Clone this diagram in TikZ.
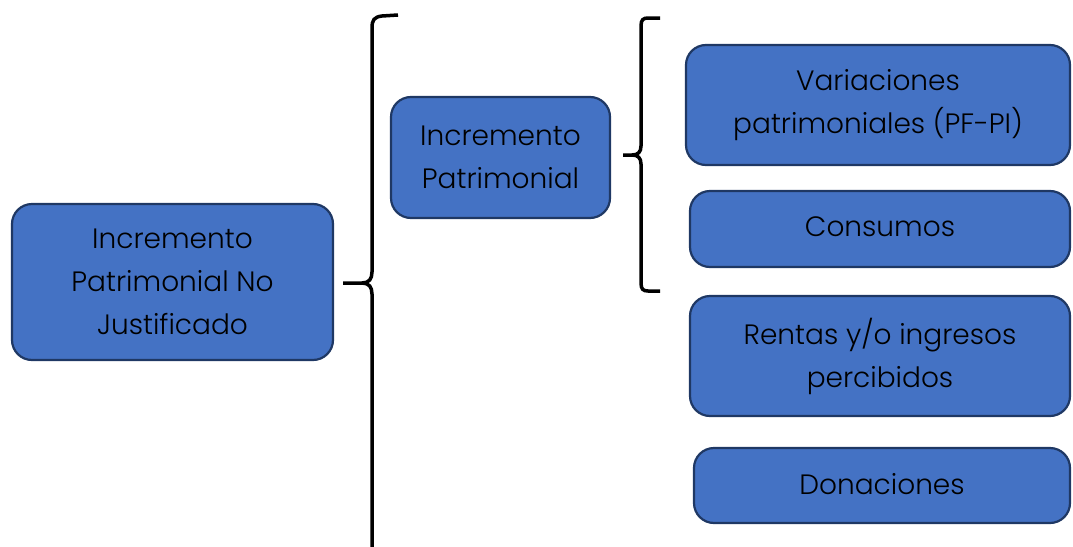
\documentclass[tikz,border=0pt]{standalone}
\usepackage{fontspec}
\setmainfont{Poppins Light}
\definecolor{boxfill}{HTML}{4472C4}
\definecolor{boxline}{HTML}{1F3864}
\begin{document}
\begin{tikzpicture}[x=1pt,y=-1pt,
  item/.style={draw=boxline, line width=2.2pt, fill=boxfill, rounded corners=20pt,
    align=center, inner sep=0pt, font=\fontsize{28}{43}\selectfont, text=black},
  bracket/.style={draw=black, line width=3.5pt, line cap=butt}]
\useasboundingbox (0,0) rectangle (1073,546);
\clip (0,0) rectangle (1073,546);

% boxes
\node[item, minimum width=321pt, minimum height=156pt] (ipnj) at (172.5,282)
  {Incremento\\Patrimonial No\\Justificado};
\node[item, minimum width=219pt, minimum height=121pt] (ip) at (500.5,157.5)
  {Incremento\\Patrimonial};
\node[item, minimum width=384pt, minimum height=120pt] (var) at (878,105)
  {Variaciones\\patrimoniales (PF-PI)};
\node[item, minimum width=380pt, minimum height=76pt] (cons) at (880,229)
  {\raisebox{4pt}{Consumos}};
\node[item, minimum width=380pt, minimum height=120pt] (rent) at (880,356)
  {Rentas y/o ingresos\\percibidos};
\node[item, minimum width=376pt, minimum height=75pt] (don) at (882,485.5)
  {\raisebox{3pt}{Donaciones}};

% large brace
\draw[bracket] (398,15) -- (382,16) .. controls (374,17) and (372,20) .. (372,28)
  -- (372,272) .. controls (372,279) and (369,283) .. (362,283) -- (343,283);
\draw[bracket] (362,283) .. controls (369,283) and (372,287) .. (372,294) -- (372,560);

% small brace
\draw[bracket] (660,18) -- (648,18) .. controls (643,18) and (641,20) .. (641,26)
  -- (641,146) .. controls (641,152) and (638,155) .. (632,155) -- (623,155);
\draw[bracket] (632,155) .. controls (638,155) and (641,158) .. (641,164)
  -- (641,283) .. controls (641,289) and (643,291) .. (648,291) -- (660,291);
\end{tikzpicture}
\end{document}
